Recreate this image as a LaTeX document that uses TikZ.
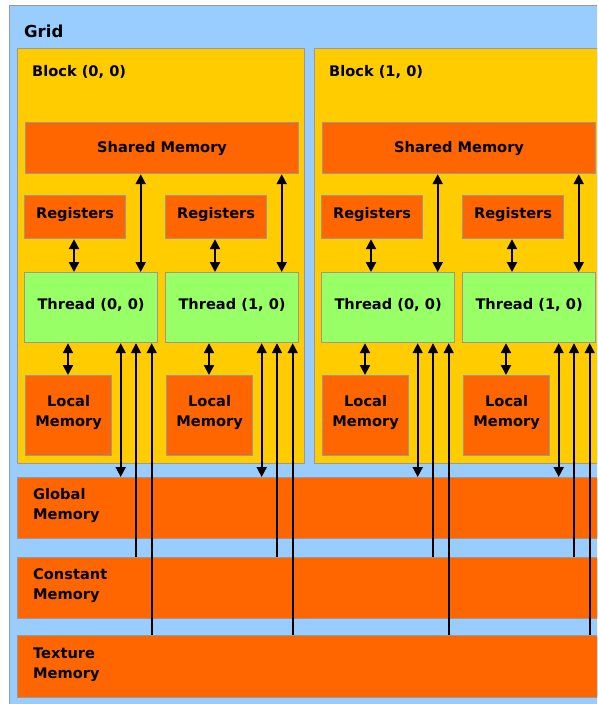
\documentclass[tikz,border=0pt]{standalone}
\usepackage{fontspec}
\setmainfont{DejaVu Sans}
\usetikzlibrary{arrows.meta}
\definecolor{gridblue}{HTML}{99CCFF}
\definecolor{blockyel}{HTML}{FFCC00}
\definecolor{memor}{HTML}{FF6600}
\definecolor{thrgreen}{HTML}{99FF66}
\definecolor{edgegray}{HTML}{999999}
\tikzset{
  boxbase/.style={draw=edgegray, line width=1.2pt, inner sep=0pt, anchor=north west,
    align=center, font=\bfseries\fontsize{14.6}{20}\selectfont},
  gridbox/.style={boxbase, fill=gridblue},
  blockbox/.style={boxbase, fill=blockyel},
  membox/.style={boxbase, fill=memor},
  thrbox/.style={boxbase, fill=thrgreen},
  raised/.style={text depth=#1},
  txt/.style={inner sep=0pt, anchor=west, align=left, font=\bfseries\fontsize{14.6}{20}\selectfont},
  dbl/.style={{Triangle[length=10pt,width=10pt]}-{Triangle[length=10pt,width=10pt]}, line width=2.1pt},
  dblthin/.style={{Triangle[length=10pt,width=10pt]}-{Triangle[length=10pt,width=10pt]}, line width=1.7pt},
  upthin/.style={-{Triangle[length=10pt,width=10pt]}, line width=1.7pt},
}
\begin{document}
\begin{tikzpicture}[x=1pt,y=-1pt]
\useasboundingbox (0,0) rectangle (597,704);
\clip (0,0) rectangle (597,704);
% grid
\node[gridbox, minimum width=620pt, minimum height=720pt] (grid) at (9,5) {};
\node[txt, font=\bfseries\fontsize{16.5}{20}\selectfont] (gridlbl) at (24,31) {Grid};
% blocks
\node[blockbox, minimum width=287pt, minimum height=415pt] (b0) at (17,48) {};
\node[blockbox, minimum width=300pt, minimum height=415pt] (b1) at (314,48) {};
\node[txt] (b0lbl) at (32,72) {Block (0, 0)};
\node[txt] (b1lbl) at (329,72) {Block (1, 0)};
% shared memory
\node[membox, minimum width=273pt, minimum height=51pt] (s0) at (25,122) {Shared Memory};
\node[membox, minimum width=273pt, minimum height=51pt] (s1) at (322,122) {Shared Memory};
% registers
\node[membox, raised=9pt, minimum width=101pt, minimum height=43pt] (r00) at (24,195) {Registers};
\node[membox, raised=9pt, minimum width=101pt, minimum height=43pt] (r01) at (165,195) {Registers};
\node[membox, raised=9pt, minimum width=101pt, minimum height=43pt] (r10) at (321,195) {Registers};
\node[membox, raised=9pt, minimum width=101pt, minimum height=43pt] (r11) at (462,195) {Registers};
% threads
\node[thrbox, raised=7.5pt, minimum width=133pt, minimum height=70pt] (t00) at (24,272) {Thread (0, 0)};
\node[thrbox, raised=7.5pt, minimum width=133pt, minimum height=70pt] (t01) at (165,272) {Thread (1, 0)};
\node[thrbox, raised=7.5pt, minimum width=133pt, minimum height=70pt] (t10) at (321,272) {Thread (0, 0)};
\node[thrbox, raised=7.5pt, minimum width=133pt, minimum height=70pt] (t11) at (462,272) {Thread (1, 0)};
% local memory
\node[membox, raised=10pt, minimum width=86pt, minimum height=80pt] (l00) at (25,375) {Local\\Memory};
\node[membox, raised=10pt, minimum width=86pt, minimum height=80pt] (l01) at (166,375) {Local\\Memory};
\node[membox, raised=10pt, minimum width=86pt, minimum height=80pt] (l10) at (322,375) {Local\\Memory};
\node[membox, raised=10pt, minimum width=86pt, minimum height=80pt] (l11) at (463,375) {Local\\Memory};
% global / constant / texture
\node[membox, minimum width=600pt, minimum height=61pt] (gm) at (17,477) {};
\node[membox, minimum width=600pt, minimum height=61pt] (cm) at (17,557) {};
\node[membox, minimum width=600pt, minimum height=62pt] (tm) at (17,635) {};
\node[txt] (gmlbl) at (33,506) {Global\\Memory};
\node[txt] (cmlbl) at (33,586) {Constant\\Memory};
\node[txt] (tmlbl) at (33,664.5) {Texture\\Memory};
% connectors
\foreach \thr/\reg/\loc/\shm in {t00/r00/l00/s0, t01/r01/l01/s0, t10/r10/l10/s1, t11/r11/l11/s1}{
  \path ([xshift=50pt]\thr.north west) coordinate (\thr-ra)
        ([xshift=116.7pt]\thr.north west) coordinate (\thr-sa)
        ([xshift=44pt]\thr.south west) coordinate (\thr-la)
        ([xshift=96.7pt]\thr.south west) coordinate (\thr-ga)
        ([xshift=112pt]\thr.south west) coordinate (\thr-ca)
        ([xshift=127.7pt]\thr.south west) coordinate (\thr-ta);
  \draw[dbl] (\thr-ra) -- (\thr-ra |- \reg.south);
  \draw[dbl] (\thr-sa) -- (\thr-sa |- \shm.south);
  \draw[dbl] (\thr-la) -- (\thr-la |- \loc.north);
  \draw[dblthin] (\thr-ga) -- (\thr-ga |- gm.north);
  \draw[upthin] (\thr-ca |- cm.north) -- (\thr-ca);
  \draw[upthin] (\thr-ta |- tm.north) -- (\thr-ta);
}
\end{tikzpicture}
\end{document}
